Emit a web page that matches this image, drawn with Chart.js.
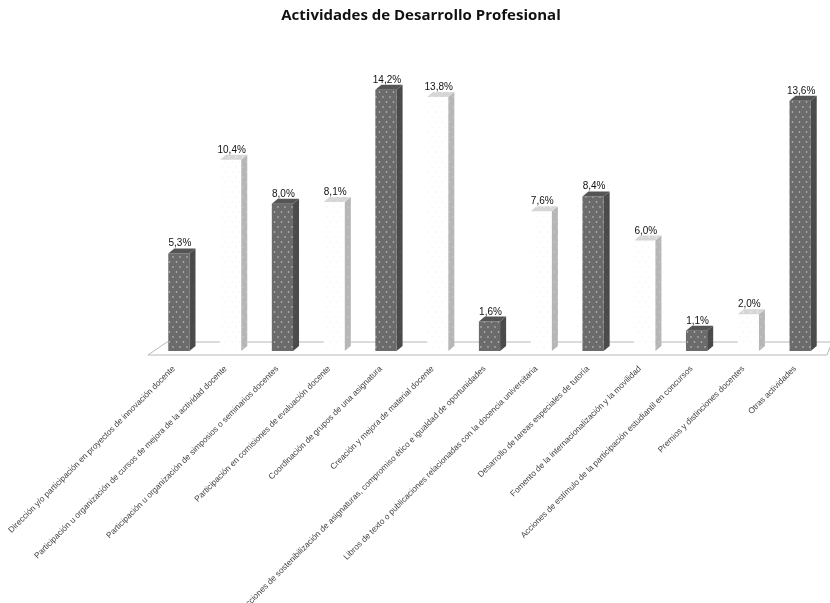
<!DOCTYPE html>
<html lang="es">
<head>
<meta charset="utf-8">
<title>Actividades de Desarrollo Profesional</title>
<script src="https://cdn.jsdelivr.net/npm/chart.js@4"></script>
<style>
    html, body { margin: 0; padding: 0; background: #fff; }
    #chart { display: block; filter: blur(0.6px); }
</style>
</head>
<body>
<canvas id="chart" width="830" height="603"></canvas>
<script>
const titleText = 'Actividades de Desarrollo Profesional';
const categories = [
    'Dirección y/o participación en proyectos de innovación docente',
    'Participación u organización de cursos de mejora de la actividad docente',
    'Participación u organización de simposios o seminarios docentes',
    'Participación en comisiones de evaluación docente',
    'Coordinación de grupos de una asignatura',
    'Creación y mejora de material docente',
    'Acciones de sostenibilización de asignaturas, compromiso ético e igualdad de oportunidades',
    'Libros de texto o publicaciones relacionadas con la docencia universitaria',
    'Desarrollo de tareas especiales de tutoría',
    'Fomento de la internacionalización y la movilidad',
    'Acciones de estímulo de la participación estudiantil en concursos',
    'Premios y distinciones docentes',
    'Otras actividades'
];
const percentages = [5.3, 10.4, 8.0, 8.1, 14.2, 13.8, 1.6, 7.6, 8.4, 6.0, 1.1, 2.0, 13.6];

const DEPTH_X = 6;
const DEPTH_Y = 5;

// Dotted fill used for the faces of the bars
function dotPattern(base, dot) {
    const tile = document.createElement('canvas');
    tile.width = 7;
    tile.height = 10;
    const g = tile.getContext('2d');
    g.fillStyle = base;
    g.fillRect(0, 0, 7, 10);
    g.fillStyle = dot;
    g.beginPath();
    g.arc(1.5, 2, 0.8, 0, Math.PI * 2);
    g.arc(5, 7, 0.8, 0, Math.PI * 2);
    g.fill();
    return document.getElementById('chart').getContext('2d').createPattern(tile, 'repeat');
}

const darkFront = dotPattern('#6b6b6b', '#cccccc');
const darkSide = dotPattern('#4a4a4a', '#585858');
const darkTop = '#555555';
const lightFront = dotPattern('#ffffff', '#f3f3f3');
const lightSide = dotPattern('#b6b6b6', '#cdcdcd');
const lightTop = dotPattern('#d6d6d6', '#f4f4f4');

const isDark = i => i % 2 === 0;

// Floor of the 3D box, behind the bars
const floorPlugin = {
    id: 'floor',
    beforeDatasetsDraw(chart) {
        const { ctx, chartArea } = chart;
        const b = chartArea.bottom;
        ctx.save();
        ctx.strokeStyle = '#b8b8b8';
        ctx.lineWidth = 1;
        ctx.beginPath();
        ctx.moveTo(chartArea.left - 5, b + 4);
        ctx.lineTo(chartArea.left + 14, b - 9);
        ctx.lineTo(chartArea.right + 6, b - 9);
        ctx.lineTo(chartArea.right + 1, b + 4);
        ctx.closePath();
        ctx.stroke();
        ctx.restore();
    }
};

// Side and top faces of each bar, plus the value above it
const depthPlugin = {
    id: 'depth',
    afterDatasetsDraw(chart) {
        const { ctx } = chart;
        const bars = chart.getDatasetMeta(0).data;
        ctx.save();
        bars.forEach((bar, i) => {
            const right = bar.x + bar.width / 2;
            const left = bar.x - bar.width / 2;
            ctx.fillStyle = isDark(i) ? darkSide : lightSide;
            ctx.beginPath();
            ctx.moveTo(right, bar.y);
            ctx.lineTo(right + DEPTH_X, bar.y - DEPTH_Y);
            ctx.lineTo(right + DEPTH_X, bar.base - DEPTH_Y);
            ctx.lineTo(right, bar.base);
            ctx.closePath();
            ctx.fill();

            ctx.fillStyle = isDark(i) ? darkTop : lightTop;
            ctx.beginPath();
            ctx.moveTo(left, bar.y);
            ctx.lineTo(left + DEPTH_X, bar.y - DEPTH_Y);
            ctx.lineTo(right + DEPTH_X, bar.y - DEPTH_Y);
            ctx.lineTo(right, bar.y);
            ctx.closePath();
            ctx.fill();

            ctx.fillStyle = '#111';
            ctx.font = '10px "Liberation Sans"';
            ctx.textAlign = 'center';
            ctx.textBaseline = 'alphabetic';
            ctx.fillText(percentages[i].toFixed(1).replace('.', ',') + '%', bar.x + 1, bar.y - 7);
        });
        ctx.restore();
    }
};

new Chart(document.getElementById('chart'), {
    type: 'bar',
    data: {
        labels: categories,
        datasets: [{
            data: percentages,
            backgroundColor: percentages.map((v, i) => isDark(i) ? darkFront : lightFront),
            borderWidth: 0,
            barPercentage: 0.41,
            categoryPercentage: 1
        }]
    },
    options: {
        responsive: false,
        animation: false,
        layout: {
            autoPadding: false,
            padding: { left: 16, right: 4, top: 0, bottom: 0 }
        },
        plugins: {
            legend: { display: false },
            tooltip: { enabled: false },
            title: {
                display: true,
                text: titleText,
                color: '#111',
                font: { family: '"Open Sans"', size: 15, weight: 'bold' },
                padding: { top: 7, bottom: 50 }
            }
        },
        scales: {
            x: {
                grid: { display: false, drawTicks: false },
                border: { display: false },
                ticks: {
                    autoSkip: false,
                    maxRotation: 45,
                    minRotation: 45,
                    padding: 13,
                    labelOffset: -5,
                    color: '#444444',
                    font: { family: '"Liberation Sans"', size: 8.3 }
                },
                afterFit(scale) {
                    scale.height = 252;
                    scale.paddingLeft = 0;
                    scale.paddingRight = 0;
                }
            },
            y: {
                min: 0,
                max: 15,
                grid: { display: false, drawTicks: false },
                border: { display: false },
                ticks: { display: false },
                afterFit(scale) {
                    scale.width = 137;
                }
            }
        }
    },
    plugins: [floorPlugin, depthPlugin]
});
</script>
</body>
</html>
